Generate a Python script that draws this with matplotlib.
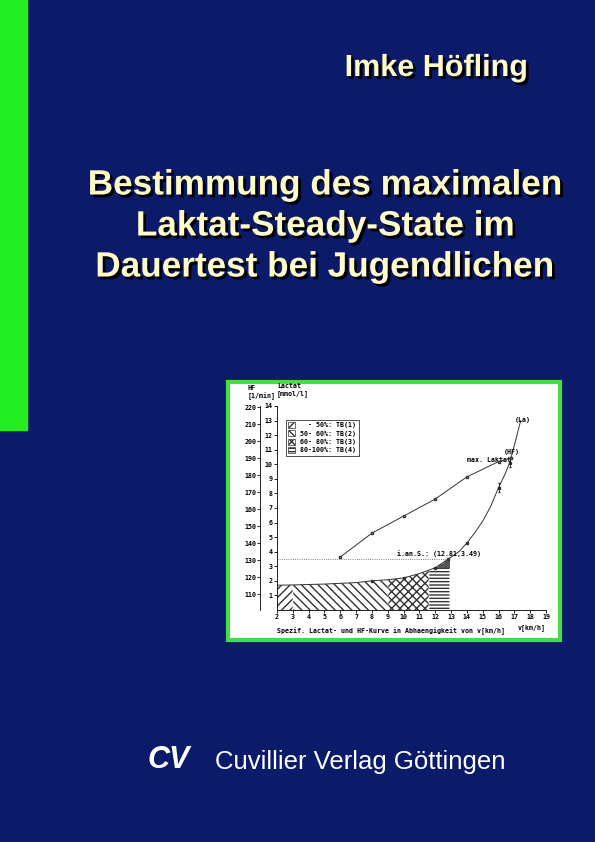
import matplotlib
matplotlib.use("Agg")
import matplotlib.pyplot as plt
import matplotlib.patheffects as pe
from matplotlib.patches import Rectangle, Patch
import numpy as np

# data
la_x = [2, 3, 5, 7, 8, 9, 10, 11, 12, 12.81, 13.5, 14, 14.5, 15, 15.5, 16, 16.4, 16.7, 17.0, 17.4]
la_y = [1.7, 1.72, 1.78, 1.88, 2.0, 2.08, 2.2, 2.5, 2.9, 3.49, 4.0, 4.6, 5.3, 6.1, 7.1, 8.4, 9.3, 10.1, 11.3, 13.0]
la_marks_x = [8, 10, 12, 12.81, 14, 16, 16.7]
la_marks_y = [2.0, 2.2, 2.9, 3.49, 4.6, 8.4, 10.1]
hf_x = [6, 8, 10, 12, 14, 16, 16.8]
hf_y = [132, 146, 156, 166, 179, 188, 190]
zones = [(2, 3, '////'), (3, 9, '\\\\\\\\'), (9, 11.6, 'xxxx'), (11.6, 12.9, '-----')]
legend_labels = ["  - 50%: TB(1)", "50- 60%: TB(2)", "60- 80%: TB(3)", "80-100%: TB(4)"]
ians = (12.81, 3.49)

W, H = 595, 842
fig = plt.figure(figsize=(W/100, H/100), dpi=100)
fig.patch.set_facecolor('#0c1a6a')

def fx(x): return x / W
def fy(y): return 1 - y / H

fig.add_artist(Rectangle((0, fy(430)), fx(27), 430/H, color='#22ee22', transform=fig.transFigure, zorder=0))

shadow = [pe.withSimplePatchShadow(offset=(2, -2), shadow_rgbFace='black', alpha=1)]
tcol = '#fffbc8'
fig.text(fx(436), fy(68), "Imke Höfling", ha='center', va='center', fontsize=22, fontweight='bold',
         family='Liberation Sans', color=tcol, path_effects=shadow)
for i, line in enumerate(["Bestimmung des maximalen", "Laktat-Steady-State im", "Dauertest bei Jugendlichen"]):
    fig.text(fx(325), fy(185 + 41*i), line, ha='center', va='center', fontsize=25.3, fontweight='bold',
             family='Liberation Sans', color=tcol, path_effects=shadow)
fig.text(fx(215), fy(762), "Cuvillier Verlag Göttingen", ha='left', va='center', fontsize=18.5,
         family='Liberation Sans', color='white')
fig.text(fx(148), fy(760), "CV", ha='left', va='center', fontsize=22, fontweight='bold', style='italic',
         family='Liberation Sans', color='white')

# chart box
fig.add_artist(Rectangle((fx(228), fy(640)), fx(332), 258/H, facecolor='white', edgecolor='#44dd44',
                         linewidth=3, transform=fig.transFigure, zorder=0))

ax = fig.add_axes([fx(277), fy(610), fx(546-277), (610-406)/H])
ax.set_zorder(2)
ax.set_facecolor('none')
ax.set_xlim(2, 19)
ax.set_ylim(0, 14)
mono = 'DejaVu Sans Mono'
fs = 4.8
ax.set_xticks(range(2, 20))
ax.set_yticks(range(1, 15))
ax.tick_params(labelsize=fs, length=2, width=0.6, pad=1)
for l in ax.get_xticklabels() + ax.get_yticklabels():
    l.set_family(mono); l.set_fontweight('bold')
ax.spines['top'].set_visible(False)
ax.spines['right'].set_visible(False)
for s in ax.spines.values():
    s.set_linewidth(0.6)

xs = np.linspace(2, 12.9, 300)
ys = np.interp(xs, la_x, la_y)
for x0, x1, h in zones:
    m = (xs >= x0) & (xs <= x1)
    ax.fill_between(xs[m], 0, ys[m], facecolor='white', edgecolor='#333333', hatch=h, linewidth=0.0)
m = xs >= 12.0
ax.fill_between(xs[m], np.minimum(ys[m], 2.9), ys[m], color='#555555', linewidth=0)

ax.plot(la_x, la_y, color='#333333', lw=0.7)
ax.plot(la_marks_x, la_marks_y, 's', ms=1.8, color='#333333')
ax.plot([2, ians[0]], [ians[1], ians[1]], ':', color='#555555', lw=0.6)
kw = dict(fontsize=fs, family=mono, fontweight='bold')
ax.text(9.6, 3.7, "i.an.S.: (%.2f,%.2f)" % ians, **kw)
ax.text(17.0, 12.9, "(La)", **kw)
ax.text(16.3, 10.7, "(HF)", **kw)
ax.text(14.0, 10.15, "max. Laktat", **kw)
ax.errorbar([16.0, 16.7], [8.4, 10.1], yerr=0.3, fmt='none', ecolor='#222222', capsize=1, lw=0.6)
ax.text(2, 14.6, "Lactat\n[mmol/l]", va='bottom', **kw)
ax.text(2.0, -1.2, "Spezif. Lactat- und HF-Kurve in Abhaengigkeit von v[km/h]", va='top', **kw)
ax.text(19, -0.95, "v[km/h]", ha='right', va='top', **kw)

ax2 = ax.twinx()
ax2.yaxis.set_ticks_position('left')
ax2.spines['left'].set_position(('outward', 12))
ax2.spines['right'].set_visible(False)
ax2.spines['top'].set_visible(False)
ax2.spines['bottom'].set_visible(False)
ax2.spines['left'].set_linewidth(0.6)
ax2.set_ylim(100.9, 220.6)
ax2.set_yticks(range(110, 221, 10))
ax2.tick_params(labelsize=fs, length=2, width=0.6, pad=1)
for l in ax2.get_yticklabels():
    l.set_family(mono); l.set_fontweight('bold')
ax2.plot(hf_x, hf_y, color='#333333', lw=0.7, marker='s', ms=1.8, mfc='white')
ax2.text(-0.11, 1.03, "HF\n[1/min]", transform=ax.transAxes, va='bottom', **kw)

handles = [Patch(facecolor='white', edgecolor='#333333', hatch=z[2], lw=0.5) for z in zones]
leg = ax2.legend(handles, legend_labels, loc='upper left', bbox_to_anchor=(0.02, 0.95),
                 prop={'family': mono, 'size': fs, 'weight': 'bold'}, frameon=True, fancybox=False,
                 edgecolor='black', handlelength=1, handleheight=1, borderpad=0.4, labelspacing=0.3)
leg.get_frame().set_linewidth(0.6)

fig.savefig("out.png", dpi=100, facecolor=fig.get_facecolor())
